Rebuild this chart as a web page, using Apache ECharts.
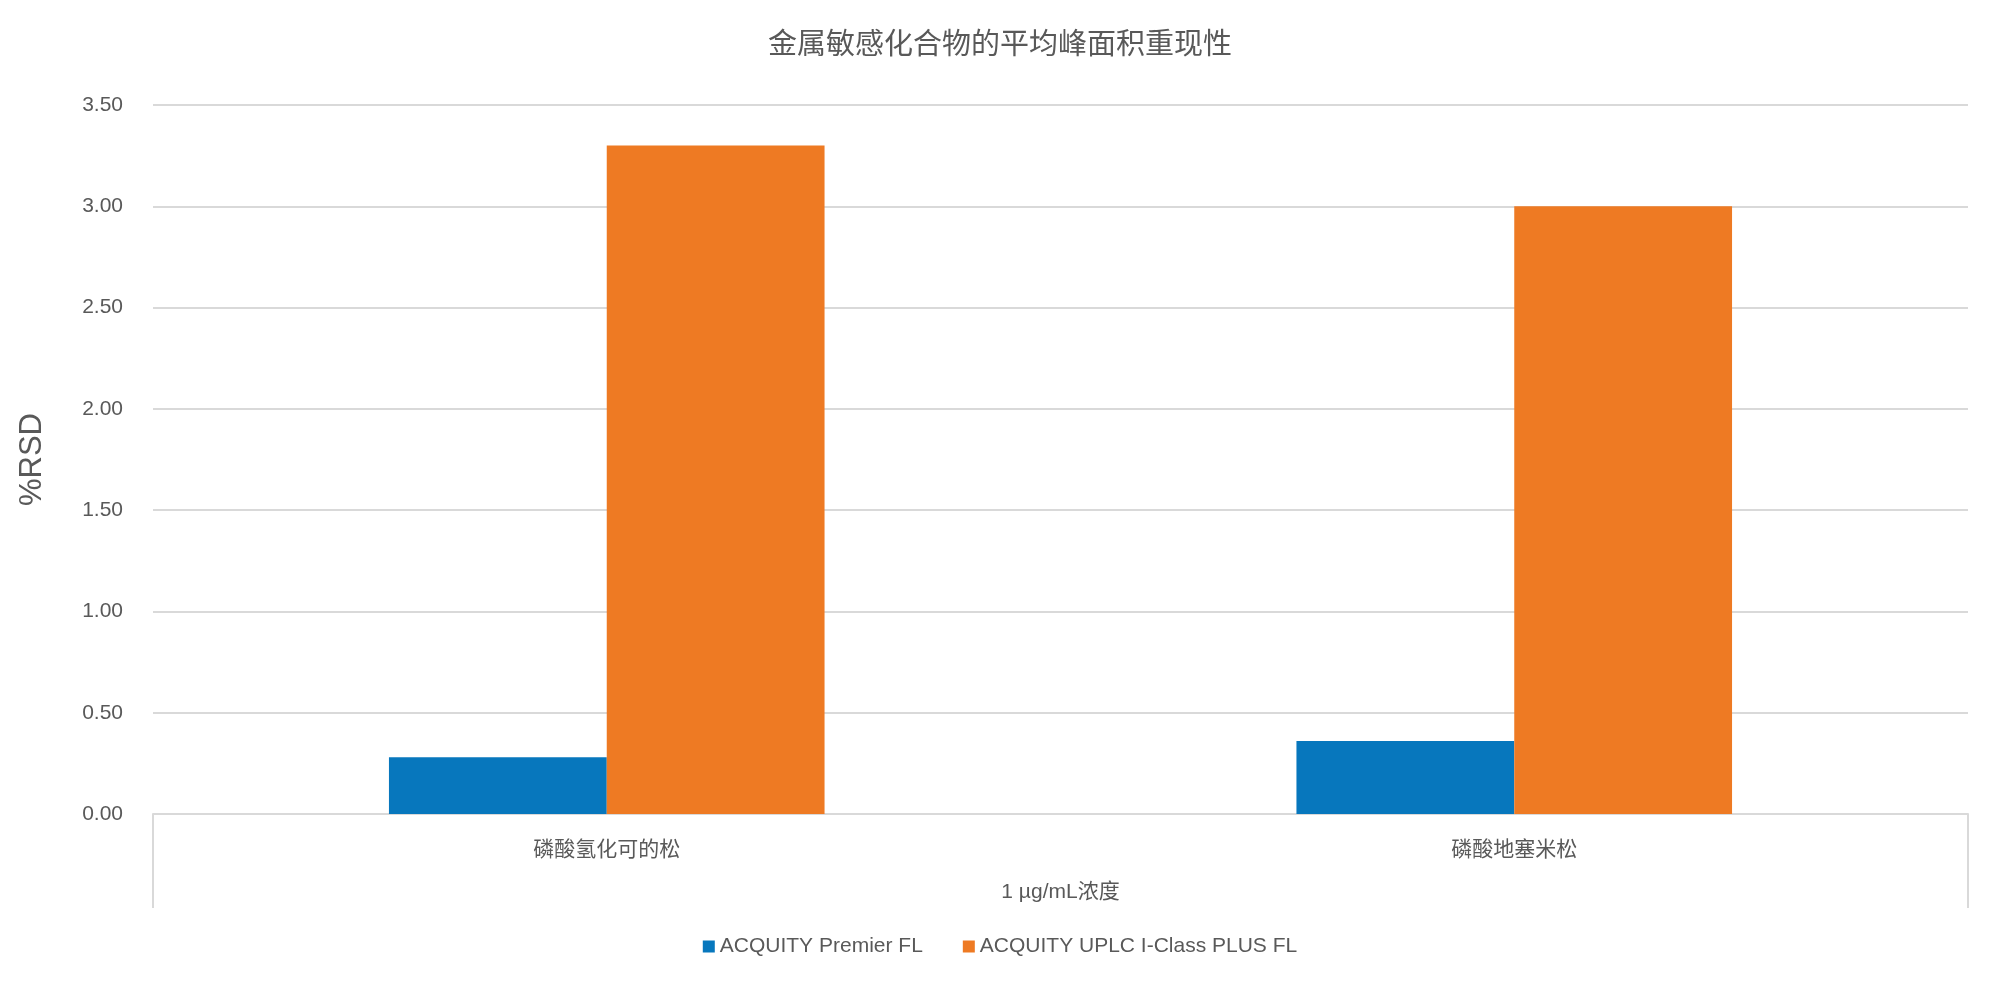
<!DOCTYPE html>
<html><head><meta charset="utf-8">
<script src="https://cdn.jsdelivr.net/npm/echarts@6/dist/echarts.min.js"></script>
<style>html,body{margin:0;background:#fff}#c{width:2000px;height:986px}</style>
</head><body><div id="c"></div>
<script>
const categories = ['磷酸氢化可的松', '磷酸地塞米松'];
const groupLabel = ['1 µg/mL浓度'];
const seriesNames = ['ACQUITY Premier FL', 'ACQUITY UPLC I-Class PLUS FL'];
const premier = [0.28, 0.36];
const iclass = [3.30, 3.00];
const font = 'Arial, "Liberation Sans", "Noto Sans CJK SC", sans-serif';
const txt = '#595959';
const chart = echarts.init(document.getElementById('c'));
chart.setOption({
  title: {text: '金属敏感化合物的平均峰面积重现性', left: 'center', top: 26,
    textStyle: {fontFamily: font, fontSize: 29, fontWeight: 'normal', color: txt}},
  grid: {left: 153, right: 32, top: 105, bottom: 172},
  legend: {bottom: 24, itemWidth: 12, itemHeight: 12, itemGap: 40, icon: 'rect',
    textStyle: {fontFamily: font, fontSize: 21, color: txt}, data: seriesNames},
  xAxis: [{type: 'category', data: categories,
    axisLine: {lineStyle: {color: '#d9d9d9', width: 2}}, axisTick: {show: false},
    axisLabel: {fontFamily: font, fontSize: 21, color: txt, margin: 26}},
   {type: 'category', data: groupLabel, position: 'bottom', boundaryGap: true,
    axisLine: {show: false},
    axisTick: {show: true, length: 94, inside: false, lineStyle: {color: '#d9d9d9', width: 2}},
    axisLabel: {fontFamily: font, fontSize: 21, color: txt, margin: 68}}],
  yAxis: {type: 'value', min: 0, max: 3.5, interval: 0.5, name: '%RSD',
    nameLocation: 'middle', nameGap: 105, nameTextStyle: {fontFamily: font, fontSize: 31, color: txt},
    axisLabel: {fontFamily: font, fontSize: 21, color: txt, margin: 30, formatter: v => v.toFixed(2)},
    splitLine: {lineStyle: {color: '#d9d9d9', width: 2}}},
  series: [
    {name: seriesNames[0], type: 'bar', data: premier, itemStyle: {color: '#0777BD'}, barGap: '0%', barCategoryGap: '52%'},
    {name: seriesNames[1], type: 'bar', data: iclass, itemStyle: {color: '#EE7A23'}, barGap: '0%', barCategoryGap: '52%'}
  ]
});
</script></body></html>
